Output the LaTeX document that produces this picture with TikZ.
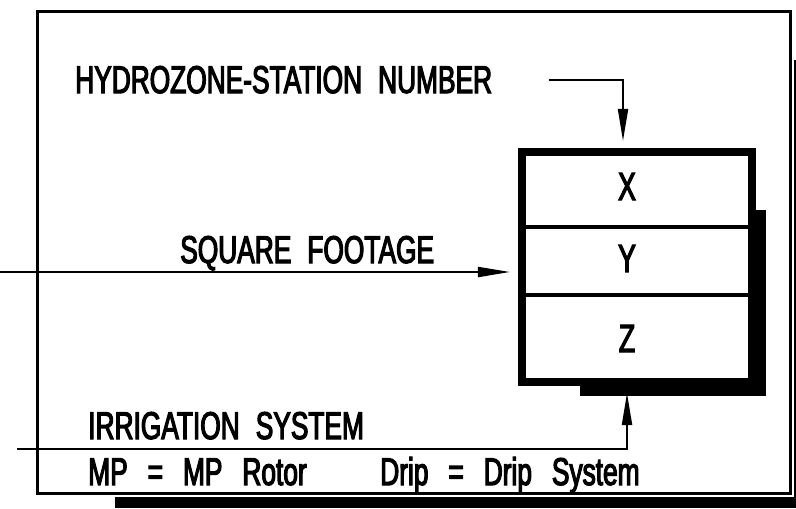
\documentclass[tikz,border=0pt]{standalone}
\usepackage{fontspec}
\newfontfamily\cadfont[FakeStretch=0.68,FakeBold=3,WordSpace=2.2]{Liberation Sans}
\usetikzlibrary{arrows.meta,positioning}

\begin{document}
\begin{tikzpicture}[
    x=0.025cm, y=-0.025cm,
    cadtext/.style={anchor=base west, inner sep=0pt, font=\cadfont\fontsize{27.5}{30}\selectfont},
    legend/.style={cadtext, font={\cadfont\fontsize{27.5}{30}\selectfont\spaceskip=14.2pt\relax}},
    letter/.style={anchor=base, inner sep=0pt, font=\cadfont\fontsize{28}{30}\selectfont},
    lead/.style={line width=0.05cm, -{Triangle[length=0.8cm,width=0.25cm]}}
]
    \useasboundingbox (0,0) rectangle (796,508);

    % Frame and its shadow
    \fill (115,60) rectangle (796,508);
    \fill[white] (35.5,9.5) rectangle (793.5,496.5);
    \draw[line width=0.075cm] (37,11) rectangle (790,493);

    % Box and its shadow
    \fill (580,210) rectangle (766,396);
    \draw[line width=0.2cm, fill=white] (522,152) rectangle (752,382);
    \draw[line width=0.1cm] (526,226.5) -- (748,226.5);
    \draw[line width=0.1cm] (526,295) -- (748,295);
    \node[letter] (X) at (627,200) {X};
    \node[letter] (Y) at (627,272) {Y};
    \node[letter] (Z) at (627,352) {Z};

    % Labels
    \node[cadtext] (hz) at (75,93) {HYDROZONE-STATION NUMBER};
    \node[cadtext] (sqft) at (180,263) {SQUARE FOOTAGE};
    \node[cadtext] (irr) at (88,439) {IRRIGATION SYSTEM};
    \node[legend] (mp) at (88,485) {MP = MP Rotor};
    \node[legend] (drip) at (380,485) {Drip = Drip System};

    % Leaders
    \coordinate (hzstart) at (549,80);
    \coordinate (hzend) at (623,141);
    \coordinate (sqstart) at (0,272);
    \coordinate (sqend) at (510,272);
    \coordinate (irrstart) at (17,449);
    \coordinate (irrend) at (627,393);
    \draw[lead] (hzstart) -| (hzend);
    \draw[lead] (sqstart) -- (sqend);
    \draw[lead] (irrstart) -| (irrend);
\end{tikzpicture}
\end{document}
